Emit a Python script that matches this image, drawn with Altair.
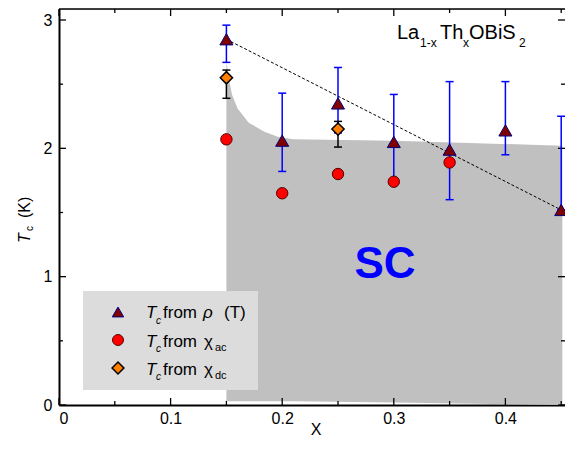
import altair as alt
import pandas as pd

# ---------------- data ----------------
x_rho = [0.15, 0.20, 0.25, 0.30, 0.35, 0.40, 0.45]
tc_rho = [2.85, 2.06, 2.35, 2.05, 1.99, 2.14, 1.52]
rho_hi = [2.96, 2.43, 2.63, 2.42, 2.52, 2.52, 2.25]
rho_lo = [2.67, 1.82, 2.12, 1.74, 1.60, 1.95, 1.52]

x_ac = [0.15, 0.20, 0.25, 0.30, 0.35]
tc_ac = [2.07, 1.65, 1.80, 1.74, 1.89]

x_dc = [0.15, 0.25]
tc_dc = [2.55, 2.15]
dc_hi = [2.61, 2.21]
dc_lo = [2.39, 2.01]

fit_x = [0.15, 0.45]
fit_y = [2.85, 1.52]

sc_x = [0.15, 0.152, 0.155, 0.16, 0.17, 0.184, 0.196, 0.21, 0.30, 0.451]
sc_top = [2.68, 2.55, 2.42, 2.31, 2.20, 2.13, 2.09, 2.07, 2.06, 2.02]
sc_bot = [0.03, 0.03, 0.03, 0.03, 0.03, 0.03, 0.03, 0.03, 0.02, 0.0]

x_major = [0, 0.1, 0.2, 0.3, 0.4]
x_minor = [0.05, 0.15, 0.25, 0.35, 0.45]
y_major = [0, 1, 2, 3]
y_minor = [0.5, 1.5, 2.5]

# ---------------- layout ----------------
W, H = 506, 396
OX, OY = 59, 9  # page position of plot origin
XMAX = W / 1116.0
YMAX = H / 128.33
FONT = "Liberation Sans"

xs = alt.Scale(domain=[0, XMAX], nice=False, zero=False)
ys = alt.Scale(domain=[0, YMAX], nice=False, zero=False)
xa = alt.Axis(values=x_major, format="~g", ticks=False, grid=False,
              labelFont=FONT, labelFontSize=16, labelColor="black", labelPadding=5,
              domainColor="black", domainWidth=2, title=None)
ya = alt.Axis(values=y_major, format="d", ticks=False, grid=False,
              labelFont=FONT, labelFontSize=16, labelColor="black", labelPadding=7,
              domainColor="black", domainWidth=2, title=None)

rho = pd.DataFrame({"x": x_rho, "y": tc_rho, "hi": rho_hi, "lo": rho_lo})
ac = pd.DataFrame({"x": x_ac, "y": tc_ac})
dc = pd.DataFrame({"x": x_dc, "y": tc_dc, "hi": dc_hi, "lo": dc_lo})
fit = pd.DataFrame({"x": fit_x, "y": fit_y})
sc = pd.DataFrame({"x": sc_x, "top": sc_top, "bot": sc_bot})
dummy = pd.DataFrame({"a": [0]})

X = lambda f: alt.X(f, type="quantitative", scale=xs, axis=xa)
Y = lambda f: alt.Y(f, type="quantitative", scale=ys, axis=ya)

area = alt.Chart(sc).mark_area(color="#c0c0c0", opacity=1).encode(
    x=X("x"), y=Y("top"), y2="bot")

top_line = alt.Chart(dummy).mark_rule(color="black", strokeWidth=1.5).encode(
    x=alt.value(0), x2=alt.value(W), y=alt.value(0))

def ticks(vals, length, side):
    d = pd.DataFrame({"v": vals})
    c = alt.Chart(d).mark_rule(color="black", strokeWidth=1.3)
    if side == "bottom":
        return c.encode(x=X("v"), y=alt.value(H), y2=alt.value(H - length))
    if side == "top":
        return c.encode(x=X("v"), y=alt.value(0), y2=alt.value(length))
    if side == "left":
        return c.encode(y=Y("v"), x=alt.value(0), x2=alt.value(length))
    return c.encode(y=Y("v"), x=alt.value(W), x2=alt.value(W - length))

tick_layers = []
for side in ["bottom", "top"]:
    tick_layers += [ticks(x_major, 7, side), ticks(x_minor, 4, side)]
for side in ["left", "right"]:
    tick_layers += [ticks(y_major, 7, side), ticks(y_minor, 4, side)]

fit_line = alt.Chart(fit).mark_line(color="black", strokeWidth=1, strokeDash=[3, 2]).encode(
    x=X("x"), y=Y("y"))

def cap(df, field, color):
    return alt.Chart(df).mark_tick(color=color, orient="horizontal", size=8, thickness=1.5,
                                   opacity=1).encode(x=X("x"), y=Y(field))

rho_bar = alt.Chart(rho).mark_rule(color="#0000ff", strokeWidth=1.5).encode(x=X("x"), y=Y("lo"), y2="hi")
dc_bar = alt.Chart(dc).mark_rule(color="black", strokeWidth=1.5).encode(x=X("x"), y=Y("lo"), y2="hi")

TRI = dict(shape="triangle-up", filled=True, fill="#800000", stroke="#000080", strokeWidth=1, opacity=1)
CIR = dict(shape="circle", filled=True, fill="#ff0000", stroke="#500000", strokeWidth=1, opacity=1)
DIA = dict(shape="diamond", filled=True, fill="#ff8000", stroke="black", strokeWidth=1.5, opacity=1)

pts_rho = alt.Chart(rho).mark_point(size=170, **TRI).encode(x=X("x"), y=Y("y"))
pts_ac = alt.Chart(ac).mark_point(size=130, **CIR).encode(x=X("x"), y=Y("y"))
pts_dc = alt.Chart(dc).mark_point(size=150, **DIA).encode(x=X("x"), y=Y("y"))


def txt(s, px, py, size=16, style="normal", weight="normal", color="black", angle=0, align="left"):
    kw = dict(text=s, font=FONT, fontSize=size, fontStyle=style, fontWeight=weight,
              color=color, align=align, baseline="alphabetic")
    if angle:
        kw["angle"] = angle
    return alt.Chart(dummy).mark_text(**kw).encode(x=alt.value(px - OX), y=alt.value(py - OY))


def sym(props, size, px, py):
    return alt.Chart(dummy).mark_point(size=size, **props).encode(
        x=alt.value(px - OX), y=alt.value(py - OY))

texts = [
    # formula
    txt("La", 397, 39, 20), txt("1-x", 420, 47, 12), txt("Th", 440, 39, 20),
    txt("x", 463, 47, 12), txt("OBiS", 469, 39, 20), txt("2", 519, 47, 12),
    # SC
    txt("SC", 385, 278, 44, weight="bold", color="#0000ff", align="center"),
    # x title
    txt("X", 316, 435, 16, align="center"),
    # y title
    txt("T", 30, 243, 16, style="italic", angle=270),
    txt("c", 33, 231, 10, angle=270),
    txt("(K)", 30, 218, 16, angle=270),
]

legend_box = alt.Chart(dummy).mark_rect(color="#dcdcdc", opacity=1).encode(
    x=alt.value(83 - OX), x2=alt.value(258 - OX), y=alt.value(291 - OY), y2=alt.value(390 - OY))

LF = 17
legend = [
    legend_box,
    sym(TRI, 130, 118, 312), sym(CIR, 120, 118, 340), sym(DIA, 140, 118, 368),
    txt("T", 146, 318, LF, style="italic"), txt("c", 156, 324, 10, style="italic"),
    txt("from", 163, 318, LF), txt("ρ", 203, 318, LF, style="italic"), txt("(T)", 224, 318, LF),
    txt("T", 146, 347, LF, style="italic"), txt("c", 156, 352, 10, style="italic"),
    txt("from", 163, 347, LF), txt("χ", 204, 347, LF), txt("ac", 215, 351, 11),
    txt("T", 146, 375, LF, style="italic"), txt("c", 156, 380, 10, style="italic"),
    txt("from", 163, 375, LF), txt("χ", 204, 375, LF), txt("dc", 215, 379, 11),
]

chart = alt.layer(
    area, top_line, *tick_layers, fit_line,
    rho_bar, cap(rho, "hi", "#0000ff"), cap(rho, "lo", "#0000ff"),
    dc_bar, cap(dc, "hi", "black"), cap(dc, "lo", "black"),
    pts_ac, pts_rho, pts_dc,
    *texts, *legend,
).properties(
    width=W, height=H,
    autosize=alt.AutoSizeParams(type="none"),
    padding={"left": 51, "top": 1, "right": 0, "bottom": 35},
).configure_view(fill="#e6e6e6", stroke=None).configure(background="white")

chart.save("out.html", embed_options={"renderer": "svg", "actions": False})
